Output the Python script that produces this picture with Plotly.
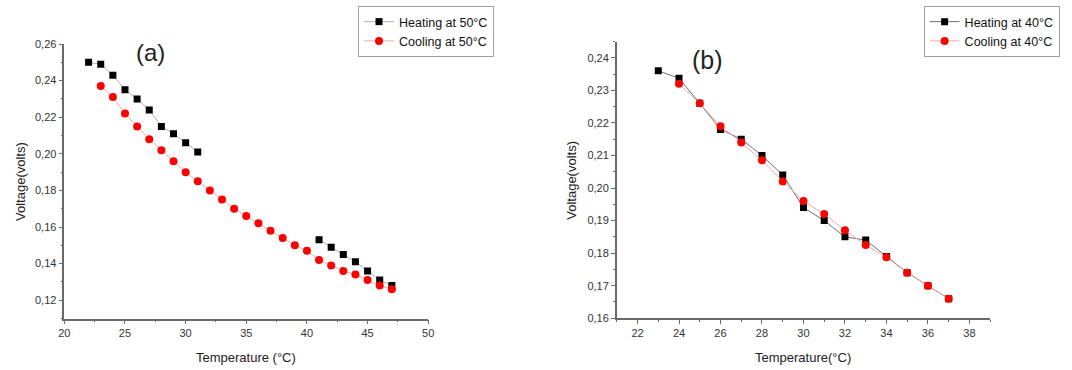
import plotly.graph_objects as go

# ---- Panel (a) data ----
a_heat_T1 = [22, 23, 24, 25, 26, 27, 28, 29, 30, 31]
a_heat_V1 = [0.250, 0.249, 0.243, 0.235, 0.230, 0.224, 0.215, 0.211, 0.206, 0.201]
a_heat_T2 = [41, 42, 43, 44, 45, 46, 47]
a_heat_V2 = [0.153, 0.149, 0.145, 0.141, 0.136, 0.131, 0.128]

a_cool_T = [23, 24, 25, 26, 27, 28, 29, 30, 31, 32, 33, 34, 35, 36, 37, 38, 39, 40,
            41, 42, 43, 44, 45, 46, 47]
a_cool_V = [0.237, 0.231, 0.222, 0.215, 0.208, 0.202, 0.196, 0.190, 0.185, 0.180,
            0.175, 0.170, 0.166, 0.162, 0.158, 0.154, 0.150, 0.147,
            0.142, 0.139, 0.136, 0.134, 0.131, 0.128, 0.126]

# ---- Panel (b) data ----
b_T = [23, 24, 25, 26, 27, 28, 29, 30, 31, 32, 33, 34, 35, 36, 37]
b_heat_V = [0.236, 0.2337, 0.226, 0.218, 0.215, 0.210, 0.204, 0.194, 0.190, 0.185,
            0.184, 0.179, 0.174, 0.170, 0.166]
b_cool_T = [24, 25, 26, 27, 28, 29, 30, 31, 32, 33, 34, 35, 36, 37]
b_cool_V = [0.232, 0.226, 0.219, 0.214, 0.2085, 0.202, 0.196, 0.192, 0.187,
            0.1825, 0.1787, 0.174, 0.170, 0.166]

FONT = "Liberation Sans, Arial, sans-serif"

fig = go.Figure()

# heating (a): gap between the two measured segments
fig.add_trace(go.Scatter(
    x=a_heat_T1 + [None] + a_heat_T2, y=a_heat_V1 + [None] + a_heat_V2,
    mode="lines+markers", name="Heating at 50°C", connectgaps=False,
    line=dict(color="#b0b0b0", width=1),
    marker=dict(symbol="square", size=7, color="black"),
    xaxis="x", yaxis="y", legend="legend"))
fig.add_trace(go.Scatter(
    x=a_cool_T, y=a_cool_V, mode="lines+markers", name="Cooling at 50°C",
    line=dict(color="#f8a8a8", width=1),
    marker=dict(symbol="circle", size=8, color="#ff0000"),
    xaxis="x", yaxis="y", legend="legend"))

fig.add_trace(go.Scatter(
    x=b_T, y=b_heat_V, mode="lines+markers", name="Heating at 40°C",
    line=dict(color="#707070", width=1),
    marker=dict(symbol="square", size=7, color="black"),
    xaxis="x2", yaxis="y2", legend="legend2"))
fig.add_trace(go.Scatter(
    x=b_cool_T, y=b_cool_V, mode="lines+markers", name="Cooling at 40°C",
    line=dict(color="#f8a8a8", width=1),
    marker=dict(symbol="circle", size=8, color="#ff0000"),
    xaxis="x2", yaxis="y2", legend="legend2"))

W, H = 1072, 370
def px(x):
    return x / W
def py(y):
    return (H - y) / H

axis_common = dict(
    showgrid=False, zeroline=False, showline=True, linecolor="#6a6a6a", linewidth=1.5,
    ticks="outside", ticklen=4, tickwidth=1, tickcolor="#6a6a6a",
    tickfont=dict(family=FONT, size=11, color="#333333"),
    mirror=False,
)

fig.update_layout(
    width=W, height=H,
    margin=dict(l=0, r=0, t=0, b=0),
    paper_bgcolor="white", plot_bgcolor="white",
    separators=", ",
    font=dict(family=FONT, color="#222222"),
    xaxis=dict(axis_common, domain=[px(59), px(427)], range=[20, 50], dtick=5,
               minor=dict(ticks="outside", ticklen=2, dtick=2.5, tickcolor="#6a6a6a"),
               anchor="y"),
    yaxis=dict(axis_common, domain=[py(323), py(39.3)], range=[0.11, 0.26], dtick=0.02,
               tick0=0.12, tickformat=".2f",
               minor=dict(ticks="outside", ticklen=2, dtick=0.01, tickcolor="#6a6a6a"),
               anchor="x"),
    xaxis2=dict(axis_common, domain=[px(617.7), px(995.3)], range=[21, 39], dtick=2, tick0=22,
                minor=dict(ticks="outside", ticklen=2, dtick=1, tickcolor="#6a6a6a"),
                anchor="y2"),
    yaxis2=dict(axis_common, domain=[py(322.7), py(36.7)], range=[0.16, 0.245], dtick=0.01,
                tickformat=".2f",
                minor=dict(ticks="outside", ticklen=2, dtick=0.005, tickcolor="#6a6a6a"),
                anchor="x2"),
    legend=dict(x=px(356), y=py(0), xanchor="left", yanchor="top",
                bordercolor="#a0a0a0", borderwidth=1, bgcolor="white",
                font=dict(family=FONT, size=12.5, color="#111111"),
                tracegroupgap=0, itemwidth=30),
    legend2=dict(x=px(928), y=py(0), xanchor="left", yanchor="top",
                 bordercolor="#a0a0a0", borderwidth=1, bgcolor="white",
                 font=dict(family=FONT, size=12.5, color="#111111"),
                 tracegroupgap=0, itemwidth=30),
    showlegend=True,
)

annots = [
    dict(text="(a)", x=px(146), y=py(48), font=dict(size=24)),
    dict(text="(b)", x=px(709), y=py(56), font=dict(size=25)),
    dict(text="Temperature (°C)", x=px(243), y=py(363), font=dict(size=13)),
    dict(text="Temperature(°C)", x=px(806), y=py(363), font=dict(size=13)),
    dict(text="Voltage(volts)", x=px(14), y=py(181), font=dict(size=13), textangle=-90),
    dict(text="Voltage(volts)", x=px(572), y=py(180), font=dict(size=13), textangle=-90),
]
for a in annots:
    a.update(xref="paper", yref="paper", showarrow=False, xanchor="center", yanchor="middle")
    a["font"].update(family=FONT, color="#222222")
    fig.add_annotation(**a)

fig.write_html("out.html")
